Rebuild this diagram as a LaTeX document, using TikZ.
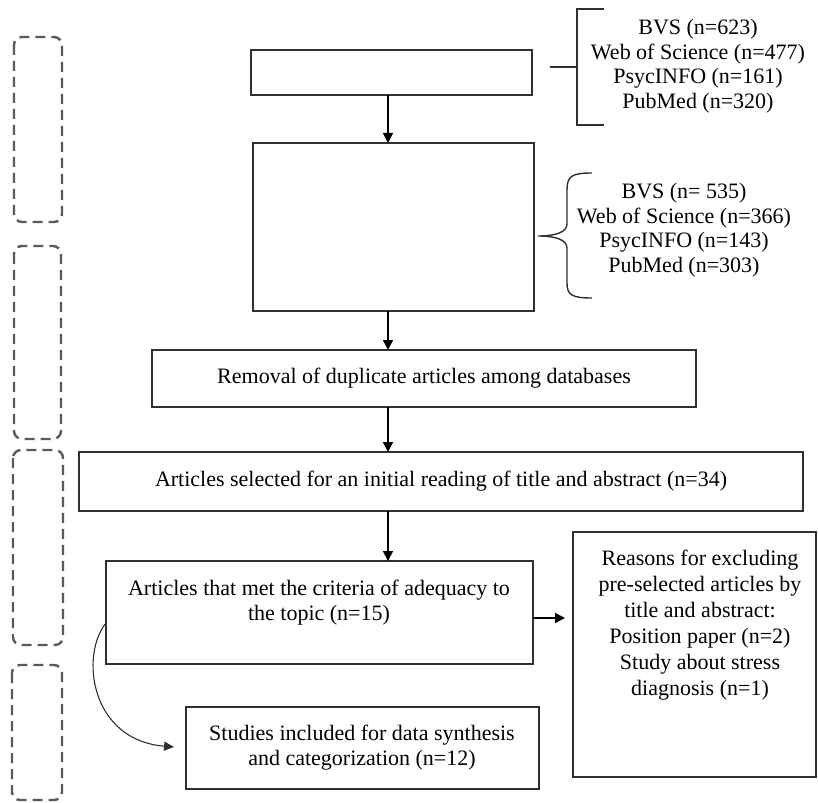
\documentclass[tikz,border=0pt]{standalone}
\usepackage{fontspec}
\setmainfont{Liberation Serif}
\usetikzlibrary{arrows.meta}
\definecolor{boxc}{HTML}{303030}
\definecolor{dashc}{HTML}{5A5A5A}
\begin{document}
\begin{tikzpicture}[x=1pt,y=-1pt,
  box/.style={draw=boxc,line width=1.8pt,inner sep=0pt,outer sep=0pt},
  txt/.style={align=center,inner sep=0pt,font=\fontsize{22}{25}\selectfont},
  btxt/.style={align=center,inner sep=0pt,font=\fontsize{22}{24.5}\selectfont},
  ftxt/.style={align=center,inner sep=0pt,font=\fontsize{22}{26}\selectfont},
  arr/.style={draw=black,line width=1.5pt,-{Triangle[length=10pt,width=10pt]}},
  carr/.style={draw=boxc,line width=1.1pt,-{Triangle[length=10pt,width=9pt]}},
  dbox/.style={draw=dashc,line width=2.4pt,rounded corners=8pt,dash pattern=on 10pt off 6pt},
  brace/.style={draw=boxc,line width=1.4pt}
]
\useasboundingbox (0,0) rectangle (818,802);

% dashed stage boxes
\draw[dbox] (14,37) rectangle (62,222);
\draw[dbox] (14,246) rectangle (61,439);
\draw[dbox] (13,450) rectangle (63,645);
\draw[dbox] (12,665) rectangle (62,800);

% main boxes
\node[box,minimum width=281pt,minimum height=45pt] (A) at (391.5,72.5) {};
\node[box,minimum width=281pt,minimum height=168pt] (B) at (393.5,227) {};
\node[box,minimum width=544pt,minimum height=57pt,txt] (C) at (424,378.5) {Removal of duplicate articles among databases};
\node[box,minimum width=724pt,minimum height=59pt] (D) at (441,481.5) {};
\node[txt] (tD) at (441,481) {Articles selected for an initial reading of title and abstract (n=34)};
\node[box,minimum width=427pt,minimum height=103pt] (E) at (319.5,612.5) {};
\node[txt] (tE) at (319,602.5) {Articles that met the criteria of adequacy to\\the topic (n=15)};
\node[box,minimum width=243pt,minimum height=245pt] (F) at (694.5,654.5) {};
\node[ftxt] (tF) at (700,625) {Reasons for excluding\\pre-selected articles by\\title and abstract:\\Position paper (n=2)\\Study about stress\\diagnosis (n=1)};
\node[box,minimum width=353pt,minimum height=82pt] (G) at (362.5,748) {};
\node[txt] (tG) at (362,747.5) {Studies included for data synthesis\\and categorization (n=12)};

% database texts
\node[btxt] (db1) at (698,66) {BVS (n=623)\\Web of Science (n=477)\\PsycINFO (n=161)\\PubMed (n=320)};
\node[btxt] (db2) at (684,230) {BVS (n= 535)\\Web of Science (n=366)\\PsycINFO (n=143)\\PubMed (n=303)};

% bracket 1
\draw[brace] (550,67) -- (577,67);
\draw[brace] (604,9) -- (577,9) -- (577,125) -- (604,125);
% brace 2
\draw[brace] (592,173) .. controls (572,173) and (567,176) .. (567,190)
  -- (567,224) .. controls (567,232) and (556,236) .. (538,236)
  .. controls (556,236) and (567,240) .. (567,248)
  -- (567,283) .. controls (567,295) and (572,298) .. (592,298);

% connectors
\coordinate (ax) at (388,0);
\draw[arr] (A.south -| ax) -- (B.north -| ax);
\draw[arr] (B.south -| ax) -- (C.north -| ax);
\draw[arr] (C.south -| ax) -- (D.north -| ax);
\draw[arr] (D.south -| ax) -- (E.north -| ax);
\coordinate (ey) at (0,618);
\draw[arr,shorten >=8pt] (E.east |- ey) -- (F.west |- ey);
\coordinate (cy) at (0,623);
\draw[carr,shorten >=12pt] (E.west |- cy) .. controls (80,655) and (90,740) .. (G.west);
\end{tikzpicture}
\end{document}
